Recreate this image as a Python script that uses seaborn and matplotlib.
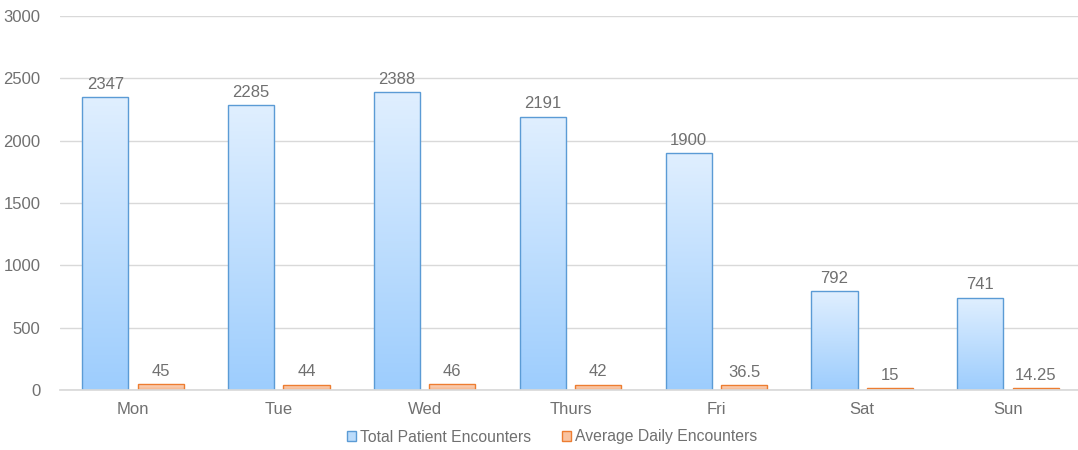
import numpy as np
import pandas as pd
import matplotlib
matplotlib.use("Agg")
import matplotlib.pyplot as plt
import seaborn as sns
from matplotlib.colors import LinearSegmentedColormap
from matplotlib.patches import Rectangle

days = ["Mon", "Tue", "Wed", "Thurs", "Fri", "Sat", "Sun"]
total_encounters = [2347, 2285, 2388, 2191, 1900, 792, 741]
avg_daily = [45, 44, 46, 42, 36.5, 15, 14.25]
series_names = ["Total Patient Encounters", "Average Daily Encounters"]
label_text_total = ["2347", "2285", "2388", "2191", "1900", "792", "741"]
label_text_avg = ["45", "44", "46", "42", "36.5", "15", "14.25"]

df = pd.DataFrame({
    "day": days * 2,
    "value": total_encounters + avg_daily,
    "series": [series_names[0]] * 7 + [series_names[1]] * 7,
})

sns.set_theme(style="white")
plt.rcParams["font.family"] = ["Liberation Sans", "DejaVu Sans"]

TXT = "#707070"
FS = 12

fig = plt.figure(figsize=(10.78, 4.5), dpi=100)
ax = fig.add_axes([60 / 1078, 1 - 390 / 450, 1021 / 1078, (390 - 16) / 450])

edge_colors = {series_names[0]: "#5b9bd5", series_names[1]: "#ed7d31"}
palette = {series_names[0]: "#bcdcfb", series_names[1]: "#f9c3a0"}
sns.barplot(data=df, x="day", y="value", hue="series", order=days,
            hue_order=series_names, palette=palette, width=0.76, gap=0.17,
            ax=ax, legend=False, saturation=1)

ax.set_ylim(0, 3000)
ax.set_xlim(-0.5, 6.5)
ax.set_yticks(np.arange(0, 3001, 500))
ax.yaxis.grid(True, color="#d9d9d9", linewidth=1)
ax.set_axisbelow(True)
for s in ["left", "right", "top"]:
    ax.spines[s].set_visible(False)
ax.spines["bottom"].set_color("#d9d9d9")
ax.tick_params(axis="both", colors=TXT, labelsize=FS, length=0)
ax.tick_params(axis="y", pad=14)
ax.tick_params(axis="x", pad=8.5)
ax.set_xlabel("")
ax.set_ylabel("")

cmaps = {
    series_names[0]: LinearSegmentedColormap.from_list("b", ["#9dcdfd", "#e0efff"]),
    series_names[1]: LinearSegmentedColormap.from_list("o", ["#f6b48a", "#fcd9c3"]),
}
grad = np.linspace(0, 1, 256).reshape(-1, 1)
for container, name, labels in zip(ax.containers, series_names, [label_text_total, label_text_avg]):
    for bar, txt in zip(container.patches, labels):
        x0, y0 = bar.get_x(), bar.get_y()
        w, h = bar.get_width(), bar.get_height()
        bar.set_facecolor("none")
        bar.set_edgecolor(edge_colors[name])
        bar.set_linewidth(1.0)
        im = ax.imshow(grad, cmap=cmaps[name], origin="lower", aspect="auto",
                       extent=(x0, x0 + w, y0, y0 + h), zorder=bar.get_zorder() - 0.1)
        im.set_clip_path(bar)
        ax.annotate(txt, (x0 + w / 2, h), xytext=(0, 4), textcoords="offset points",
                    ha="center", va="bottom", fontsize=FS, color=TXT)

handles = [Rectangle((0, 0), 1, 1, facecolor=palette[n], edgecolor=edge_colors[n]) for n in series_names]
fig.legend(handles, series_names, loc="center", bbox_to_anchor=(0.512, 1 - 437 / 450), ncol=2,
           frameon=False, fontsize=11.3, labelcolor=TXT, handlelength=0.55, handleheight=0.55,
           handletextpad=0.25, columnspacing=2.0)

fig.savefig("out.png", dpi=100)
